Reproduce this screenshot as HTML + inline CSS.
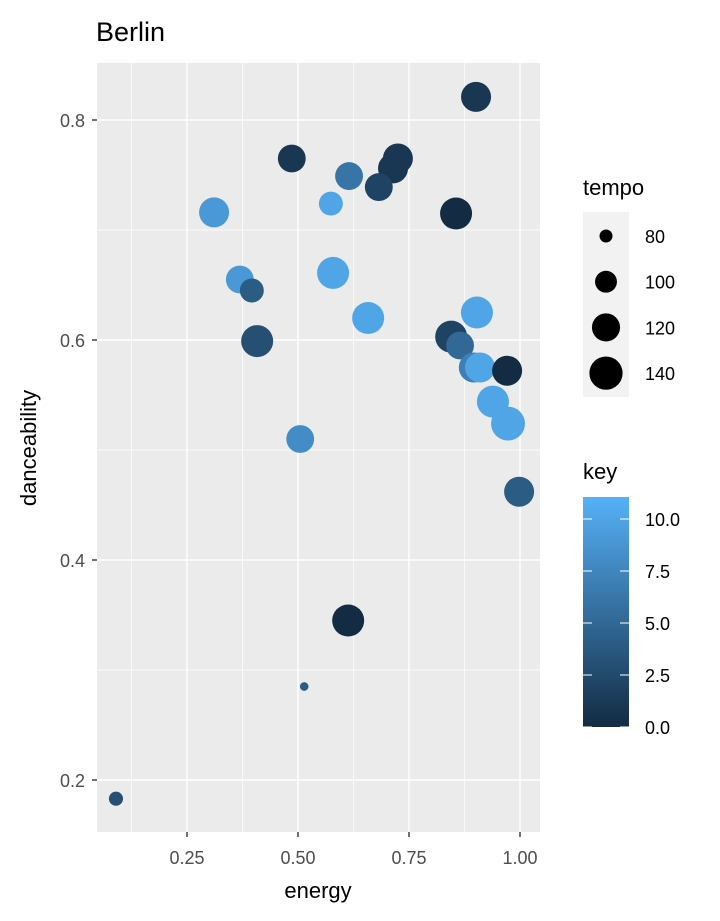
<!DOCTYPE html>
<html><head><meta charset="utf-8"><style>
body{margin:0;background:#fff;}
svg{display:block;font-family:"Liberation Sans",sans-serif;}
</style></head><body>
<svg id="chart" width="720" height="921" xmlns="http://www.w3.org/2000/svg">
<text x="96" y="41" font-size="27" fill="#000">Berlin</text>
<rect x="97" y="63" width="443" height="769" fill="#EBEBEB"/>
<g id="grid"></g>
<g id="points"></g>
<g id="axes"></g>
<text x="318" y="898" font-size="22" text-anchor="middle">energy</text>
<text transform="translate(36,448) rotate(-90)" font-size="22" text-anchor="middle">danceability</text>
<g>
<text x="583" y="195" font-size="22">tempo</text>
<rect x="583" y="212" width="46" height="185" fill="#F2F2F2"/>
<g id="sizeLegend"></g>
</g>
<g>
<text x="583" y="479" font-size="22">key</text>
<defs><linearGradient id="kg" x1="0" y1="1" x2="0" y2="0"><stop offset="0" stop-color="#132B43"/><stop offset="1" stop-color="#56B1F7"/></linearGradient></defs>
<rect x="583" y="497" width="46" height="230" fill="url(#kg)"/>
<g id="keyLegend"></g>
</g>
</svg>
<script>
const energy=[0.901,0.486,0.725,0.714,0.682,0.615,0.856,0.574,0.311,0.369,0.396,0.579,0.658,0.903,0.408,0.845,0.865,0.896,0.910,0.971,0.939,0.973,0.505,0.998,0.613,0.514,0.090];
const danceability=[0.821,0.765,0.765,0.756,0.739,0.749,0.715,0.724,0.716,0.655,0.645,0.661,0.620,0.625,0.599,0.603,0.595,0.575,0.575,0.572,0.544,0.524,0.510,0.462,0.345,0.285,0.183];
const tempo=[127,119,127,127,119,119,135,106,127,119,106,135,135,135,135,135,119,127,127,127,135,143,119,127,135,74,82];
const key=[1,1,1,1,2,6,0,10,9,9,4,10,10,10,3,2,5,7,10,0,10,10,8,4,0,4,3];
const xTicks=[0.25,0.5,0.75,1.0];
const xTickLabels=["0.25","0.50","0.75","1.00"];
const yTicks=[0.2,0.4,0.6,0.8];
const yTickLabels=["0.2","0.4","0.6","0.8"];
const tempoBreaks=[80,100,120,140];
const keyBreaks=[0,2.5,5,7.5,10];
const keyBreakLabels=["0.0","2.5","5.0","7.5","10.0"];
const NS="http://www.w3.org/2000/svg";
const X=v=>76+v*444, Y=v=>120+(0.8-v)*1100;
const R=t=>Math.sqrt(Math.max(12,42+3.9*(t-80)));
const KY=k=>727-k*20.8;
function col(k){const t=Math.max(0,Math.min(1,k/11));const a=[0x13,0x2B,0x43],b=[0x56,0xB1,0xF7];
return "rgb("+a.map((v,i)=>Math.round(v+(b[i]-v)*t)).join(",")+")";}
function mk(tag,attrs,parent){const e=document.createElementNS(NS,tag);for(const k in attrs)e.setAttribute(k,attrs[k]);parent.appendChild(e);return e;}
const grid=document.getElementById('grid'),axes=document.getElementById('axes'),pts=document.getElementById('points');
for(let i=0;i<xTicks.length;i++){
 const mv=xTicks[i]-0.125;
 const m=mk('line',{x1:X(mv),x2:X(mv),y1:63,y2:832,stroke:'#fff','stroke-width':0.7},grid);
 
 
 const l=mk('line',{x1:X(xTicks[i]),x2:X(xTicks[i]),y1:63,y2:832,stroke:'#fff','stroke-width':1.4},grid);
 
 
 const tk=mk('line',{x1:X(xTicks[i]),x2:X(xTicks[i]),y1:832,y2:837,stroke:'#333','stroke-width':1.4},axes);
 
 
 const tx=mk('text',{x:X(xTicks[i]),y:864,'font-size':18,'text-anchor':'middle',fill:'#4D4D4D'},axes);
 tx.textContent=xTickLabels[i];
 
 
}
for(let i=0;i<yTicks.length;i++){
 const mv=yTicks[i]+0.1;
 if(Y(mv)>63){const m=mk('line',{x1:97,x2:540,y1:Y(mv),y2:Y(mv),stroke:'#fff','stroke-width':0.7},grid);
 
 }
 const l=mk('line',{x1:97,x2:540,y1:Y(yTicks[i]),y2:Y(yTicks[i]),stroke:'#fff','stroke-width':1.4},grid);
 
 
 const tk=mk('line',{x1:92,x2:97,y1:Y(yTicks[i]),y2:Y(yTicks[i]),stroke:'#333','stroke-width':1.4},axes);
 
 
 const tx=mk('text',{x:85,y:Y(yTicks[i])+7,'font-size':18,'text-anchor':'end',fill:'#4D4D4D'},axes);
 tx.textContent=yTickLabels[i];
 
 
}
for(let i=0;i<energy.length;i++){
 const c=mk('circle',{cx:X(energy[i]),cy:Y(danceability[i]),r:R(tempo[i]),fill:col(key[i])},pts);
 
 
}
const sl=document.getElementById('sizeLegend');
for(let i=0;i<tempoBreaks.length;i++){
 const cy=236+i*45.7;
 const c=mk('circle',{cx:606,cy:cy,r:R(tempoBreaks[i]),fill:'#000'},sl);
 
 
 const t=mk('text',{x:645,y:cy+7,'font-size':18},sl);
 t.textContent=tempoBreaks[i];
 
 
}
const kl=document.getElementById('keyLegend');
for(let i=0;i<keyBreaks.length;i++){
 const y=KY(keyBreaks[i]);
 const a=mk('line',{x1:583,x2:592,y1:y,y2:y,stroke:'#fff','stroke-width':1},kl);
 
 
 const b=mk('line',{x1:620,x2:629,y1:y,y2:y,stroke:'#fff','stroke-width':1},kl);
 
 
 const t=mk('text',{x:645,y:y+7,'font-size':18},kl);
 t.textContent=keyBreakLabels[i];
 
 
}
</script>
</body></html>
